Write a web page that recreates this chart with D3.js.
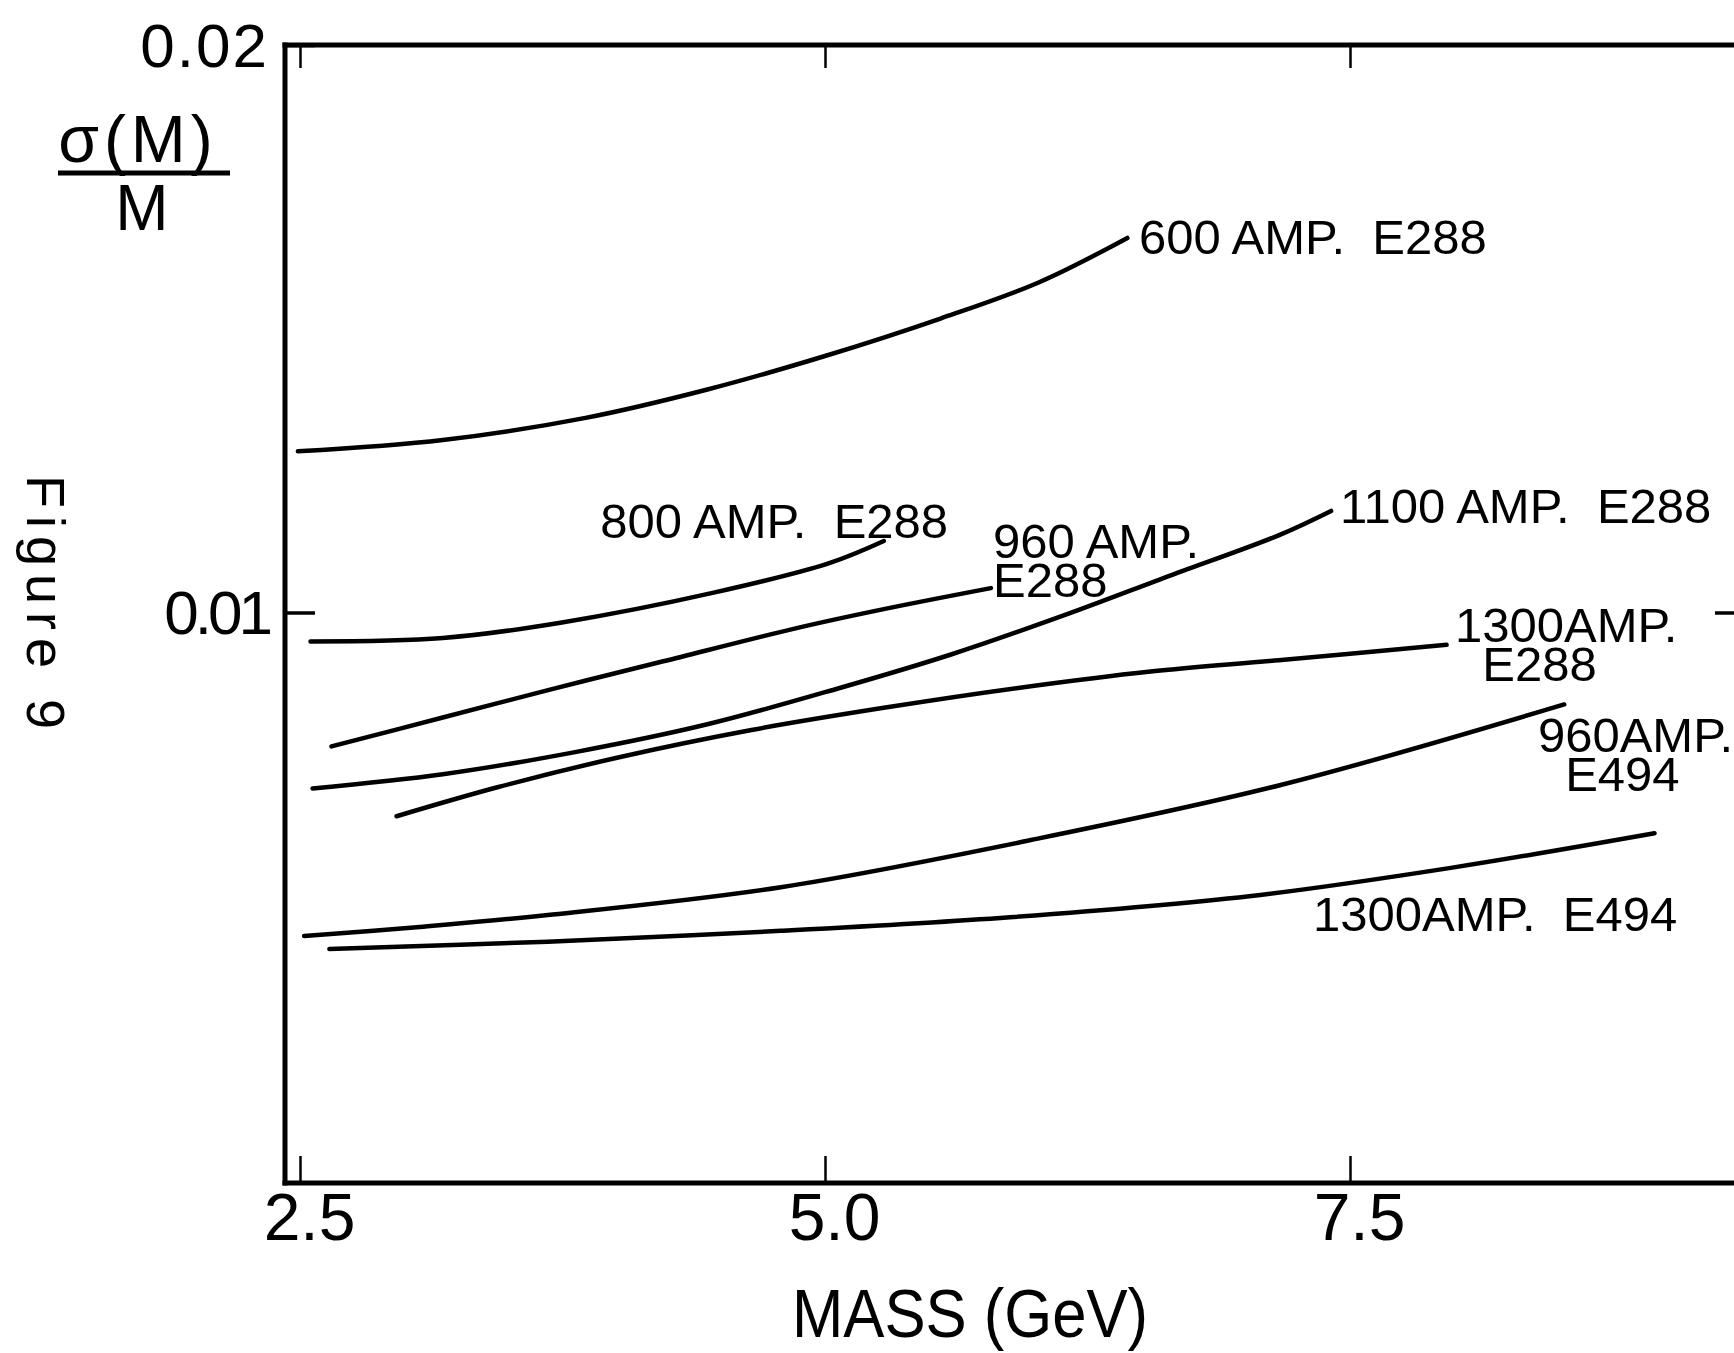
<!DOCTYPE html>
<html>
<head>
<meta charset="utf-8">
<script src="https://cdn.jsdelivr.net/npm/d3@7"></script>
<style>
  html, body { margin: 0; padding: 0; background: #fff; }
  svg { display: block; }
  text { font-family: "Liberation Sans", Arial, sans-serif; fill: #000; white-space: pre; }
</style>
</head>
<body>
<svg id="chart"></svg>
<script>
// ticks
const massTicks = [2.5, 5.0, 7.5]
const sigmaTicks = [0.01, 0.02]

// curves, [mass GeV, sigma(M)/M]
const amp600E288 = [[2.49, 0.01284], [3.18, 0.01304], [3.86, 0.01343], [4.44, 0.01393], [5.00, 0.01452], [5.55, 0.01518], [6.02, 0.01582], [6.44, 0.01660]]
const amp800E288 = [[2.55, 0.00949], [3.18, 0.00955], [3.74, 0.00982], [4.47, 0.01035], [5.02, 0.01087], [5.28, 0.01126]]
const amp960E288 = [[2.65, 0.00764], [3.18, 0.00815], [3.70, 0.00865], [4.23, 0.00914], [4.87, 0.00973], [5.28, 0.01006], [5.79, 0.01043]]
const amp1100E288 = [[2.56, 0.00690], [3.18, 0.00715], [3.81, 0.00754], [4.44, 0.00803], [5.07, 0.00867], [5.60, 0.00926], [6.13, 0.00994], [6.65, 0.01066], [7.16, 0.01136], [7.41, 0.01179]]
const amp1300E288 = [[2.96, 0.00641], [3.44, 0.00692], [4.02, 0.00745], [4.65, 0.00793], [5.28, 0.00832], [5.92, 0.00867], [6.55, 0.00896], [7.16, 0.00916], [7.96, 0.00943]]
const amp960E494 = [[2.52, 0.00430], [3.07, 0.00446], [3.68, 0.00467], [4.79, 0.00516], [5.98, 0.00599], [7.17, 0.00696], [8.52, 0.00838]]
const amp1300E494 = [[2.64, 0.00407], [3.68, 0.00420], [4.79, 0.00439], [5.88, 0.00463], [7.02, 0.00500], [7.98, 0.00550], [8.95, 0.00611]]

const curves = [amp600E288, amp800E288, amp960E288, amp1100E288, amp1300E288, amp960E494, amp1300E494]

// curve labels: text lines and where the first baseline starts (data units)
const labelLines = [
	["600 AMP.  E288"],
	["800 AMP.  E288"],
	["960 AMP.", "E288"],
	["1100 AMP.  E288"],
	["1300AMP.", "  E288"],
	["960AMP.", "  E494"],
	["1300AMP.  E494"]
]
const labelMass = [6.495, 3.93, 5.80, 7.452, 8.00, 8.395, 7.324]
const labelSigma = [0.01632, 0.01131, 0.01096, 0.01158, 0.00948, 0.00754, 0.00439]

const W = 1734, H = 1353
const frame = {left: 285, top: 45, right: 1752, bottom: 1183}

const svg = d3.select("#chart")
	.attr("width", W)
	.attr("height", H)
	.attr("viewBox", `0 0 ${W} ${H}`)

const x = d3.scaleLinear().domain([2.5, 7.5]).range([300, 1350])
const y = d3.scaleLinear().domain([0, 0.02]).range([1180, 45])

// frame
svg.append("g")
	.attr("stroke", "#000")
	.attr("stroke-width", 5)
	.attr("stroke-linecap", "square")
	.selectAll("line")
	.data([
		[frame.left, frame.top, W + 20, frame.top],
		[frame.left, frame.top, frame.left, frame.bottom],
		[frame.left, frame.bottom, W + 20, frame.bottom]
	])
	.join("line")
	.attr("x1", d => d[0]).attr("y1", d => d[1])
	.attr("x2", d => d[2]).attr("y2", d => d[3])

// axes (ticks point inward)
const styleAxis = (g) => {
	g.select(".domain").remove()
	g.selectAll(".tick line").attr("stroke", "#000").attr("stroke-width", 2.5)
	g.selectAll(".tick text").attr("fill", "#000")
		.attr("font-family", "Liberation Sans, Arial, sans-serif")
}

svg.append("g")
	.attr("transform", `translate(0,${frame.bottom})`)
	.call(d3.axisBottom(x).tickValues(massTicks).tickFormat(d3.format(".1f"))
		.tickSizeInner(-27).tickSizeOuter(0).tickPadding(10))
	.call(styleAxis)
	.call(g => g.selectAll(".tick text")
		.attr("font-size", 66)
		.attr("dx", 9))

svg.append("g")
	.attr("transform", `translate(0,${frame.top})`)
	.call(d3.axisTop(x).tickValues(massTicks).tickFormat("")
		.tickSizeInner(-23).tickSizeOuter(0))
	.call(styleAxis)

svg.append("g")
	.attr("transform", `translate(${frame.left},0)`)
	.call(d3.axisLeft(y).tickValues(sigmaTicks).tickFormat(d3.format(".2f"))
		.tickSizeInner(-30).tickSizeOuter(0).tickPadding(16))
	.call(styleAxis)
	.call(g => g.selectAll(".tick line").attr("stroke-width", 3.5))
	.call(g => g.selectAll(".tick text")
		.attr("font-size", 62)
		.attr("letter-spacing", d => d === 0.02 ? 2 : -4)
		.attr("dy", "0.34em"))

svg.append("g")
	.attr("transform", `translate(${frame.right},0)`)
	.call(d3.axisRight(y).tickValues([0.01]).tickFormat("")
		.tickSizeInner(-37).tickSizeOuter(0))
	.call(styleAxis)
	.call(g => g.selectAll(".tick line").attr("stroke-width", 3.5))

// curves
const line = d3.line()
	.x(d => x(d[0]))
	.y(d => y(d[1]))
	.curve(d3.curveCatmullRom.alpha(0.5))

svg.append("g")
	.attr("fill", "none")
	.attr("stroke", "#000")
	.attr("stroke-width", 4.5)
	.attr("stroke-linecap", "round")
	.selectAll("path")
	.data(curves)
	.join("path")
	.attr("d", line)

// curve labels
svg.append("g")
	.attr("font-size", 49)
	.selectAll("text")
	.data(labelLines)
	.join("text")
	.attr("x", (d, i) => x(labelMass[i]))
	.attr("y", (d, i) => y(labelSigma[i]))
	.selectAll("tspan")
	.data(d => d)
	.join("tspan")
	.attr("x", function () { return this.parentNode.getAttribute("x") })
	.attr("dy", (d, i) => i === 0 ? 0 : "0.8em")
	.text(d => d)

// axis titles
svg.append("text")
	.attr("x", 970)
	.attr("y", 1337)
	.attr("text-anchor", "middle")
	.attr("font-size", 68)
	.attr("textLength", 356)
	.attr("lengthAdjust", "spacingAndGlyphs")
	.text("MASS (GeV)")

const yTitle = svg.append("g")
yTitle.append("text")
	.attr("x", 138)
	.attr("y", 162)
	.attr("text-anchor", "middle")
	.attr("font-size", 66)
	.attr("letter-spacing", 5)
	.text("σ(M)")
yTitle.append("line")
	.attr("x1", 58).attr("x2", 230)
	.attr("y1", 173).attr("y2", 173)
	.attr("stroke", "#000")
	.attr("stroke-width", 5)
yTitle.append("text")
	.attr("x", 142)
	.attr("y", 230)
	.attr("text-anchor", "middle")
	.attr("font-size", 64)
	.text("M")

// handwritten figure number on the margin
svg.append("text")
	.attr("transform", "translate(27,475) rotate(90)")
	.attr("font-size", 54)
	.attr("letter-spacing", 8)
	.attr("font-family", "DejaVu Sans, sans-serif")
	.text("Figure 9")
</script>
</body>
</html>
